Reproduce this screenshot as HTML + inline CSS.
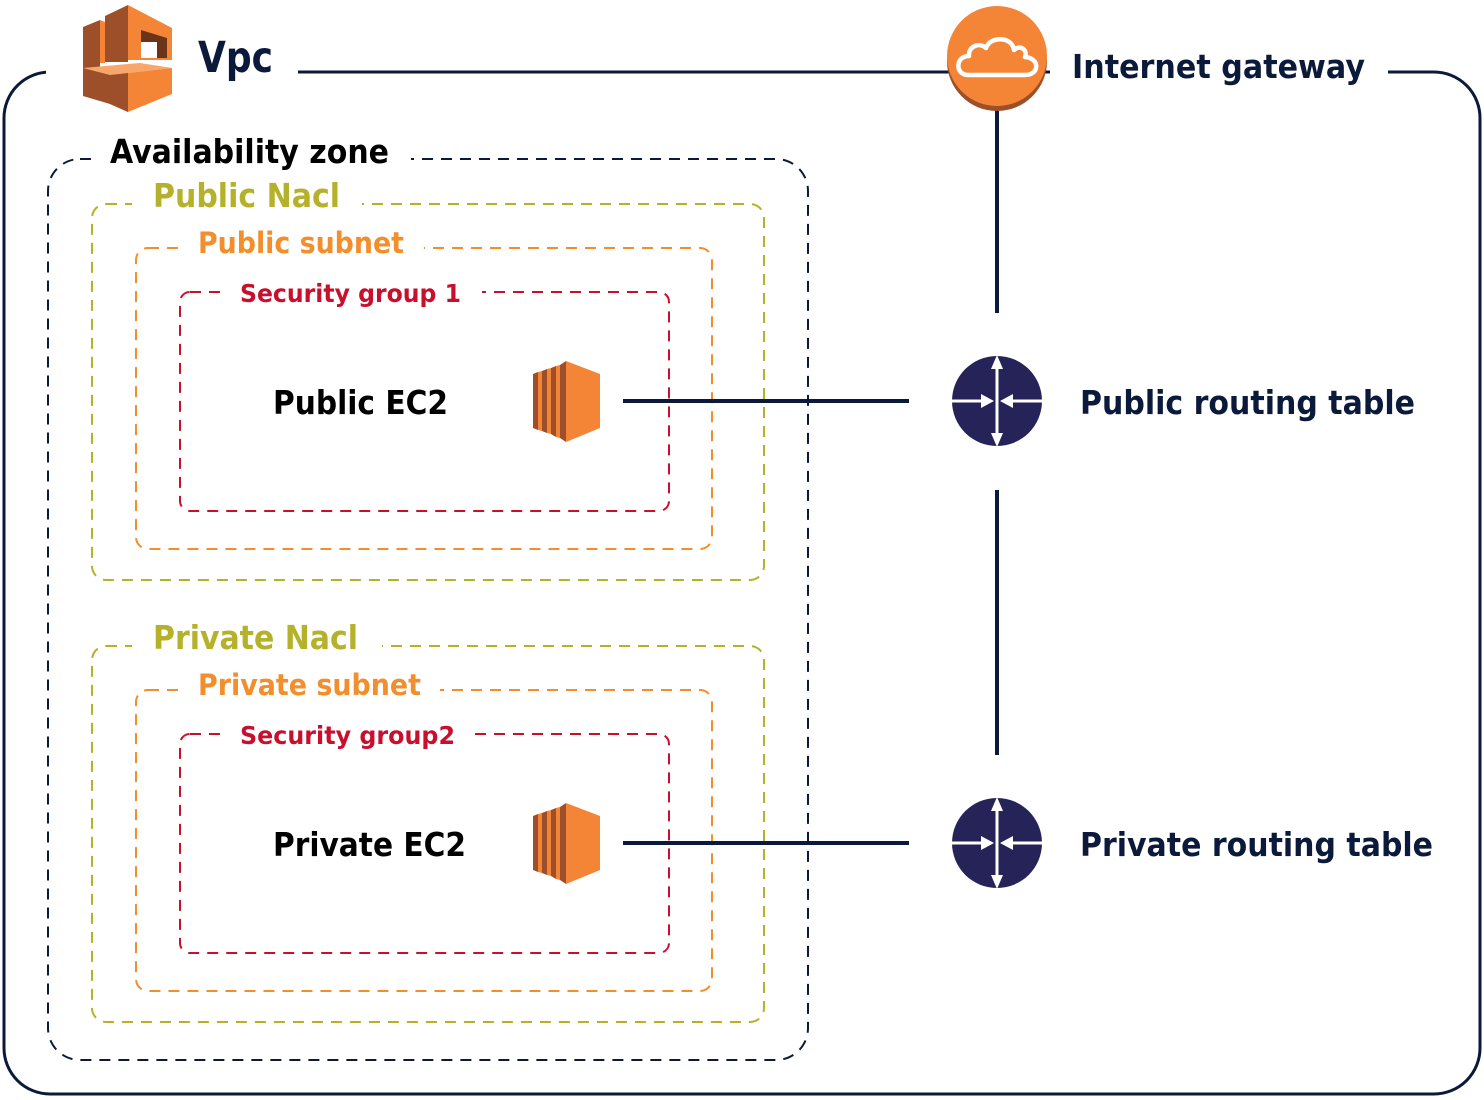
<!DOCTYPE html>
<html><head><meta charset="utf-8"><style>
html,body{margin:0;padding:0;background:#fff;}
svg{display:block;}
text{font-family:"DejaVu Sans","Liberation Sans",sans-serif;font-weight:bold;}
</style></head><body>
<svg width="1484" height="1100" viewBox="0 0 1484 1100" xmlns="http://www.w3.org/2000/svg">
<!-- VPC border -->
<rect x="4" y="72" width="1476" height="1022" rx="46" fill="none" stroke="#0b1a3a" stroke-width="3"/>
<rect x="46" y="60" width="252" height="30" fill="#fff"/>
<rect x="1050" y="60" width="338" height="30" fill="#fff"/>
<!-- AZ -->
<rect x="48" y="159" width="760" height="901" rx="32" fill="none" stroke="#0b1a3a" stroke-width="2" stroke-dasharray="11 8"/>
<rect x="95" y="140" width="316" height="30" fill="#fff"/>
<text x="110" y="163" font-size="33" fill="#000" textLength="279" lengthAdjust="spacingAndGlyphs">Availability zone</text>

<g>
<rect x="92" y="204" width="672" height="376" rx="14" fill="none" stroke="#b5b12a" stroke-width="2" stroke-dasharray="11 8"/>
<rect x="132" y="190" width="230" height="24" fill="#fff"/>
<text x="153" y="207" font-size="33" fill="#b5b12a" textLength="187" lengthAdjust="spacingAndGlyphs">Public Nacl</text>
<rect x="136" y="248" width="576" height="301" rx="12" fill="none" stroke="#f28e2b" stroke-width="2" stroke-dasharray="11 8"/>
<rect x="180" y="236" width="244" height="22" fill="#fff"/>
<text x="198" y="253" font-size="29" fill="#f28e2b" textLength="206" lengthAdjust="spacingAndGlyphs">Public subnet</text>
<rect x="180" y="292" width="489" height="219" rx="10" fill="none" stroke="#c8102e" stroke-width="2" stroke-dasharray="11 8"/>
<rect x="226" y="282" width="256" height="20" fill="#fff"/>
<text x="240" y="302" font-size="25" fill="#c8102e" textLength="221" lengthAdjust="spacingAndGlyphs">Security group 1</text>
<text x="273" y="414" font-size="33" fill="#000" textLength="175" lengthAdjust="spacingAndGlyphs">Public EC2</text>
</g>

<g>
<rect x="92" y="646" width="672" height="376" rx="14" fill="none" stroke="#b5b12a" stroke-width="2" stroke-dasharray="11 8"/>
<rect x="132" y="632" width="250" height="24" fill="#fff"/>
<text x="153" y="649" font-size="33" fill="#b5b12a" textLength="205" lengthAdjust="spacingAndGlyphs">Private Nacl</text>
<rect x="136" y="690" width="576" height="301" rx="12" fill="none" stroke="#f28e2b" stroke-width="2" stroke-dasharray="11 8"/>
<rect x="180" y="678" width="260" height="22" fill="#fff"/>
<text x="198" y="695" font-size="29" fill="#f28e2b" textLength="223" lengthAdjust="spacingAndGlyphs">Private subnet</text>
<rect x="180" y="734" width="489" height="219" rx="10" fill="none" stroke="#c8102e" stroke-width="2" stroke-dasharray="11 8"/>
<rect x="226" y="724" width="244" height="20" fill="#fff"/>
<text x="240" y="744" font-size="25" fill="#c8102e" textLength="215" lengthAdjust="spacingAndGlyphs">Security group2</text>
<text x="273" y="856" font-size="33" fill="#000" textLength="193" lengthAdjust="spacingAndGlyphs">Private EC2</text>
</g>

<!-- VPC icon -->
<g>
<polygon points="83,27 100,20 100,85 83,80" fill="#9d4f2a"/>
<polygon points="100,20 105,22 105,63 100,63" fill="#f58536"/>
<polygon points="105,16 128,5 128,62 105,62" fill="#9d4f2a"/>
<polygon points="128,5 172,28 172,60 128,60" fill="#f58536"/>
<polygon points="141,30 167,38 167,58 157,58 157,42 141,42" fill="#6b3418"/>
<polygon points="141,42 157,42 157,58 141,58" fill="#fff"/>
<polygon points="83,68 140,63 172,68 110,75 83,72" fill="#f9a66c"/>
<polygon points="83,68 110,75 110,104 83,96" fill="#9d4f2a"/>
<polygon points="110,75 172,68 172,94 128,112 110,104" fill="#f58536"/>
<polygon points="110,75 128,73 128,112 110,104" fill="#9d4f2a"/>
</g>
<text x="198" y="72" font-size="43" fill="#0b1a3a" textLength="75" lengthAdjust="spacingAndGlyphs">Vpc</text>

<!-- lines -->
<line x1="298" y1="72" x2="948" y2="72" stroke="#0b1a3a" stroke-width="3"/>
<line x1="1048" y1="72" x2="1050" y2="72" stroke="#0b1a3a" stroke-width="3"/>
<line x1="997" y1="108" x2="997" y2="313" stroke="#0b1a3a" stroke-width="4"/>
<line x1="997" y1="490" x2="997" y2="755" stroke="#0b1a3a" stroke-width="4"/>
<line x1="623" y1="401" x2="909" y2="401" stroke="#0b1a3a" stroke-width="4"/>
<line x1="623" y1="843" x2="909" y2="843" stroke="#0b1a3a" stroke-width="4"/>

<!-- Internet gateway -->
<circle cx="997" cy="61" r="50" fill="#9d4f2a"/>
<circle cx="997" cy="56" r="50" fill="#f58536"/>
<path d="M968,75 C955,75 955,56 969,56 C968,46 980,42 986,48 C990,36 1012,36 1014,50 C1020,44 1028,50 1025,57 C1040,58 1040,75 1025,75 Z" fill="none" stroke="#fff" stroke-width="4.5" stroke-linejoin="round"/>
<text x="1072" y="78" font-size="33" fill="#0b1a3a" textLength="293" lengthAdjust="spacingAndGlyphs">Internet gateway</text>

<!-- routers -->
<g id="r1" transform="translate(997,401)">
<circle r="45" fill="#262359"/>
<g stroke="#fff" stroke-width="3" fill="#fff">
<line x1="0" y1="-36" x2="0" y2="36"/>
<polygon points="0,-46 -6,-32 6,-32" stroke="none"/>
<polygon points="0,46 -6,32 6,32" stroke="none"/>
<line x1="-46" y1="0" x2="-14" y2="0"/>
<polygon points="-3,0 -16,-7 -16,7" stroke="none"/>
<line x1="46" y1="0" x2="14" y2="0"/>
<polygon points="3,0 16,-7 16,7" stroke="none"/>
</g>
</g>
<use href="#r1" transform="translate(0,442)"/>
<text x="1080" y="414" font-size="33" fill="#0b1a3a" textLength="335" lengthAdjust="spacingAndGlyphs">Public routing table</text>
<text x="1080" y="856" font-size="33" fill="#0b1a3a" textLength="353" lengthAdjust="spacingAndGlyphs">Private routing table</text>

<!-- EC2 icons -->
<g id="ec2">
<polygon points="533,374 538,372 538,430 533,428" fill="#9d4f2a"/>
<polygon points="538,372 542,371 542,431 538,430" fill="#f58536"/>
<polygon points="542,371 547,369 547,433 542,431" fill="#9d4f2a"/>
<polygon points="547,369 551,368 551,434 547,433" fill="#f58536"/>
<polygon points="551,368 556,366 556,437 551,434" fill="#9d4f2a"/>
<polygon points="556,366 560,365 560,438 556,437" fill="#f58536"/>
<polygon points="560,365 566,361 566,442 560,438" fill="#9d4f2a"/>
<polygon points="566,361 600,374 600,428 566,442" fill="#f58536"/>
</g>
<use href="#ec2" transform="translate(0,442)"/>
</svg>
</body></html>
